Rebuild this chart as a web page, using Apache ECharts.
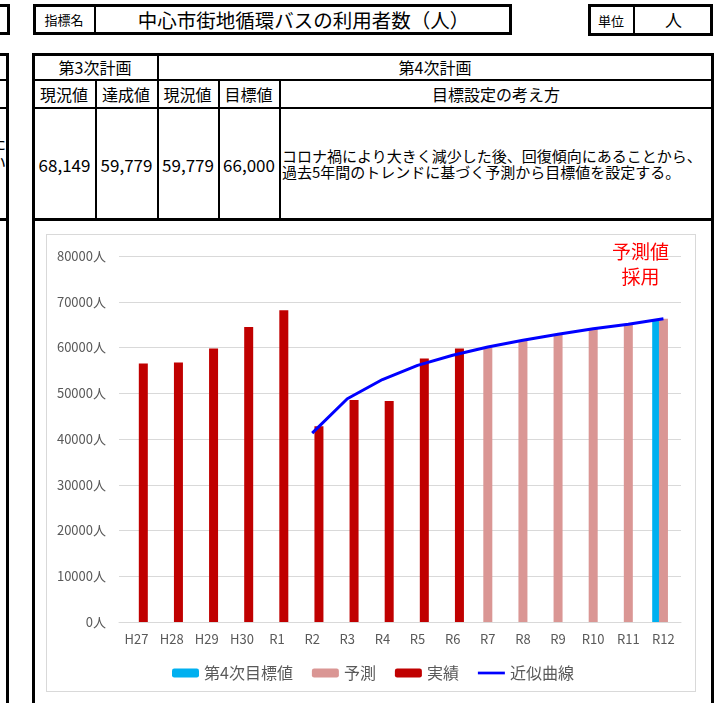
<!DOCTYPE html>
<html>
<head>
<meta charset="utf-8">
<script src="https://cdn.jsdelivr.net/npm/echarts@6/dist/echarts.min.js"></script>
<style>
  html, body { margin:0; padding:0; background:#fff; width:722px; height:703px; overflow:hidden; }
  body { position:relative; font-family:"Noto Sans CJK JP","Noto Sans",sans-serif; color:#000; }
  .a { position:absolute; box-sizing:border-box; }
  .ln { position:absolute; background:#000; }
  .t { position:absolute; white-space:nowrap; text-align:center; line-height:1; }
</style>
</head>
<body>
<!-- left partial panel -->
<div class="a" style="left:-10px;top:4px;width:20px;height:31px;border:3px solid #000;"></div>
<div class="ln" style="left:6px;top:54px;width:3px;height:660px;"></div>
<div class="ln" style="left:0;top:53px;width:9px;height:3px;"></div>
<div class="ln" style="left:0;top:79px;width:9px;height:2px;"></div>
<div class="ln" style="left:0;top:107px;width:9px;height:2px;"></div>
<div class="ln" style="left:0;top:218px;width:9px;height:3px;"></div>
<div class="a" style="left:0;top:130px;width:6px;height:45px;overflow:hidden;">
  <div class="t" style="right:0;top:4px;font-size:16px;">た</div>
  <div class="t" style="right:0;top:24px;font-size:16px;">い</div>
</div>

<!-- title box -->
<div class="a" style="left:33px;top:4px;width:479px;height:31px;border:3px solid #000;"></div>
<div class="ln" style="left:94px;top:4px;width:2px;height:31px;"></div>
<div class="t" id="lblName" style="left:33px;width:62px;top:13px;font-size:13px;"></div>
<div class="t" id="titleText" style="left:95px;width:417px;top:9.5px;font-size:19.5px;"></div>

<!-- unit box -->
<div class="a" style="left:588px;top:4px;width:125px;height:32px;border:3px solid #000;"></div>
<div class="ln" style="left:633px;top:4px;width:2px;height:32px;"></div>
<div class="t" id="lblUnit" style="left:588px;width:46px;top:14px;font-size:13px;"></div>
<div class="t" id="unitText" style="left:634px;width:79px;top:11px;font-size:17px;"></div>

<!-- main table -->
<div class="a" style="left:32px;top:53px;width:682px;height:700px;border:3px solid #000;"></div>
<div class="ln" style="left:32px;top:79px;width:682px;height:2px;"></div>
<div class="ln" style="left:32px;top:107px;width:682px;height:2px;"></div>
<div class="ln" style="left:32px;top:218px;width:682px;height:3px;"></div>
<div class="ln" style="left:94.5px;top:80px;width:2px;height:140px;"></div>
<div class="ln" style="left:156.5px;top:54px;width:2px;height:166px;"></div>
<div class="ln" style="left:217.5px;top:80px;width:2px;height:140px;"></div>
<div class="ln" style="left:278.5px;top:80px;width:2px;height:140px;"></div>

<div class="t" id="h3" style="left:33px;width:124px;top:59px;font-size:16px;"></div>
<div class="t" id="h4" style="left:157px;width:556px;top:59px;font-size:16px;"></div>
<div class="t" id="c0" style="left:33px;width:62px;top:86px;font-size:16px;"></div>
<div class="t" id="c1" style="left:95px;width:62px;top:86px;font-size:16px;"></div>
<div class="t" id="c2" style="left:157px;width:61px;top:86px;font-size:16px;"></div>
<div class="t" id="c3" style="left:218px;width:61px;top:86px;font-size:16px;"></div>
<div class="t" id="c4" style="left:279px;width:434px;top:86px;font-size:16px;"></div>
<div class="t" id="v0" style="left:33px;width:63px;top:156px;font-size:17px;"></div>
<div class="t" id="v1" style="left:95px;width:63px;top:156px;font-size:17px;"></div>
<div class="t" id="v2" style="left:157px;width:62px;top:156px;font-size:17px;"></div>
<div class="t" id="v3" style="left:218px;width:62px;top:156px;font-size:17px;"></div>
<div class="t" id="desc" style="left:282px;top:148px;font-size:15px;line-height:16px;text-align:left;"></div>

<!-- chart frame -->
<div class="a" style="left:46px;top:234px;width:650px;height:458px;border:1px solid #d9d9d9;"></div>
<div id="chart" style="position:absolute;left:47px;top:235px;width:648px;height:456px;"></div>

<script>
// ---- table texts ----
const labelName = '指標名';
const titleText = '中心市街地循環バスの利用者数（人）';
const labelUnit = '単位';
const unitText = '人';
const planHeaders = ['第3次計画', '第4次計画'];
const colHeaders = ['現況値', '達成値', '現況値', '目標値', '目標設定の考え方'];
const tableValues = ['68,149', '59,779', '59,779', '66,000'];
const descLines = ['コロナ禍により大きく減少した後、回復傾向にあることから、', '過去5年間のトレンドに基づく予測から目標値を設定する。'];

// ---- chart data ----
const categories = ['H27','H28','H29','H30','R1','R2','R3','R4','R5','R6','R7','R8','R9','R10','R11','R12'];
const targetValues   = [null,null,null,null,null,null,null,null,null,null,null,null,null,null,null,66000];
const forecastValues = [null,null,null,null,null,null,null,null,null,null,60100,61400,62900,64100,65100,66300];
const actualValues   = [56500,56700,59800,64500,68149,42800,48500,48300,57600,59779,null,null,null,null,null,null];
const trendValues    = [null,null,null,null,null,41300,48800,53000,56100,58300,60100,61600,62900,64100,65100,66300];
const seriesNames = ['第4次目標値','予測','実績','近似曲線'];
const yTicks = { min: 0, max: 80000, interval: 10000, unit: '人' };
const annotation = ['予測値', '採用'];

document.getElementById('lblName').textContent = labelName;
document.getElementById('titleText').textContent = titleText;
document.getElementById('lblUnit').textContent = labelUnit;
document.getElementById('unitText').textContent = unitText;
document.getElementById('h3').textContent = planHeaders[0];
document.getElementById('h4').textContent = planHeaders[1];
colHeaders.forEach((h, i) => document.getElementById('c' + i).textContent = h);
tableValues.forEach((v, i) => document.getElementById('v' + i).textContent = v);
document.getElementById('desc').innerHTML = descLines.join('<br>');

const FONT = '"Noto Sans CJK JP","Noto Sans",sans-serif';
const chart = echarts.init(document.getElementById('chart'), null, { renderer: 'canvas' });
chart.setOption({
  animation: false,
  textStyle: { fontFamily: FONT },
  grid: { left: 72, right: 14, top: 21, bottom: 69, containLabel: false },
  legend: {
    left: 120, top: 425,
    itemWidth: 27, itemHeight: 9, itemGap: 19,
    symbolKeepAspect: true,
    textStyle: { fontSize: 16, color: '#595959', fontFamily: FONT },
    data: [
      { name: seriesNames[0] },
      { name: seriesNames[1] },
      { name: seriesNames[2] },
      { name: seriesNames[3], icon: 'path://M0,0 L30,0 L30,3 L0,3 Z', itemStyle: { color: '#0000ff' } }
    ]
  },
  xAxis: {
    type: 'category', data: categories,
    axisLine: { show: true, lineStyle: { color: '#d9d9d9', width: 1 } },
    axisTick: { show: false },
    axisLabel: { color: '#595959', fontSize: 13, margin: 11, fontFamily: FONT, interval: 0 },
    splitLine: { show: false }
  },
  yAxis: {
    type: 'value', min: yTicks.min, max: yTicks.max, interval: yTicks.interval,
    axisLine: { show: false }, axisTick: { show: false },
    axisLabel: { color: '#595959', fontSize: 13, margin: 13, fontFamily: FONT,
      formatter: v => String(v) + yTicks.unit },
    splitLine: { lineStyle: { color: '#d9d9d9', width: 1 } }
  },
  series: [
    { name: seriesNames[0], type: 'bar', data: targetValues, barWidth: 9, barGap: '-25%', itemStyle: { color: '#00b0f0' } },
    { name: seriesNames[1], type: 'bar', data: forecastValues, barWidth: 9, barGap: '-25%', itemStyle: { color: '#da9694' } },
    { name: seriesNames[2], type: 'bar', data: actualValues, barWidth: 9, barGap: '-25%', itemStyle: { color: '#c00000' } },
    { name: seriesNames[3], type: 'line', data: trendValues, symbol: 'none', showSymbol: false, smooth: false,
      lineStyle: { color: '#0000ff', width: 3 }, itemStyle: { color: '#0000ff' }, z: 5 }
  ],
  graphic: [{
    type: 'text', x: 593.5, y: 29.5, z: 10,
    style: { text: annotation.join('\n'), fill: '#ff0000', fontSize: 19, lineHeight: 25,
      fontFamily: FONT, align: 'center', verticalAlign: 'middle' }
  }]
});
</script>
</body>
</html>
